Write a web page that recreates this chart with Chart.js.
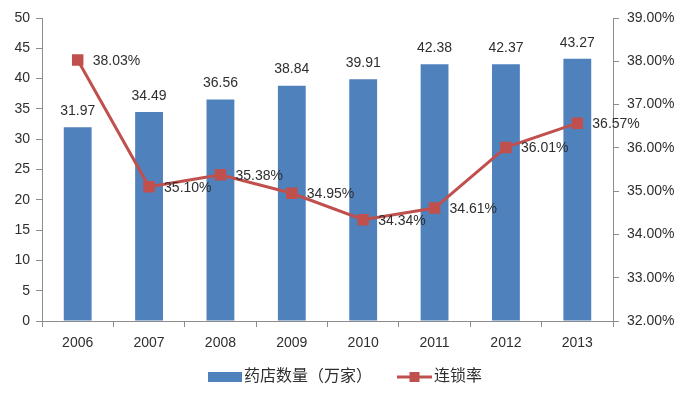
<!DOCTYPE html>
<html><head><meta charset="utf-8">
<script src="https://cdn.jsdelivr.net/npm/chart.js@4/dist/chart.umd.min.js"></script>
<style>html,body{margin:0;padding:0;background:#fff}#wrap{width:700px;height:399px}</style>
</head><body><div id="wrap"><canvas id="c" width="700" height="399"></canvas></div>
<script>
const categories = ['2006','2007','2008','2009','2010','2011','2012','2013'];
const storeCounts = [31.97, 34.49, 36.56, 38.84, 39.91, 42.38, 42.37, 43.27];
const chainRates = [38.03, 35.10, 35.38, 34.95, 34.34, 34.61, 36.01, 36.57];
const barLabel = '药店数量（万家）';
const lineLabel = '连锁率';

const BLUE = '#4F81BD', RED = '#C0504D', AXIS = '#8C8C8C', TXT = '#2E2E2E';
const LATIN = '"Liberation Sans", Arial, sans-serif';
const CJK = '"Noto Sans CJK SC", sans-serif';

const labelPlugin = {
  id:'vals',
  afterDatasetsDraw(chart){
    const ctx = chart.ctx;
    ctx.save();
    ctx.fillStyle = TXT;
    ctx.font = '14px ' + LATIN;
    const mBar = chart.getDatasetMeta(1);
    ctx.textAlign = 'center'; ctx.textBaseline = 'middle';
    mBar.data.forEach((el,i)=>{ ctx.fillText(storeCounts[i].toFixed(2), el.x, el.y - 16); });
    const mLine = chart.getDatasetMeta(0);
    ctx.textAlign = 'left';
    mLine.data.forEach((el,i)=>{ ctx.fillText(chainRates[i].toFixed(2)+'%', el.x + 15, el.y + 1); });
    ctx.restore();
  }
};

const legendPlugin = {
  id:'customLegend',
  afterDraw(chart){
    const ctx = chart.ctx;
    ctx.save();
    const y = 377;
    let x = 208;
    ctx.fillStyle = BLUE;
    ctx.fillRect(x, y-5, 34, 10);
    x += 36;
    ctx.font = '16px ' + CJK;
    ctx.fillStyle = TXT; ctx.textAlign = 'left'; ctx.textBaseline = 'middle';
    ctx.fillText(barLabel, x, y - 2);
    x = 397;
    ctx.strokeStyle = RED; ctx.lineWidth = 3;
    ctx.beginPath(); ctx.moveTo(x, y); ctx.lineTo(x+35, y); ctx.stroke();
    ctx.fillStyle = RED; ctx.fillRect(x+12.5, y-5, 10, 10);
    x += 37;
    ctx.fillStyle = TXT;
    ctx.fillText(lineLabel, x, y - 2);
    ctx.restore();
  }
};

new Chart(document.getElementById('c'), {
  data:{
    labels: categories,
    datasets:[
      {type:'line', label: lineLabel, data: chainRates, yAxisID:'y1', borderColor: RED, backgroundColor: RED, borderWidth:3,
       pointStyle:'rect', pointRadius:6, pointBackgroundColor: RED, pointBorderColor: RED, tension:0, order:0},
      {type:'bar', label: barLabel, data: storeCounts, yAxisID:'y', backgroundColor: BLUE, barPercentage:0.39, categoryPercentage:1, order:1}
    ]
  },
  options:{
    responsive:false, animation:false,
    layout:{padding:{top:18, left:0, right:0, bottom:48}},
    plugins:{ tooltip:{enabled:false}, legend:{display:false} },
    scales:{
      x:{offset:true, grid:{offset:true, drawOnChartArea:false, drawTicks:true, tickLength:6, color:AXIS},
         border:{color:AXIS}, ticks:{color:TXT, font:{family:LATIN, size:14}, padding:8},
         afterFit(s){ s.height = 30; }},
      y:{position:'left', min:0, max:50, ticks:{stepSize:5, color:TXT, font:{family:LATIN, size:14}, padding:6},
         grid:{drawOnChartArea:false, tickLength:6, color:AXIS}, border:{color:AXIS},
         afterFit(s){ s.width = 42; }},
      y1:{position:'right', min:32, max:39, ticks:{stepSize:1, color:TXT, font:{family:LATIN, size:14}, padding:8,
           callback:v=>v.toFixed(2)+'%'},
         grid:{drawOnChartArea:false, tickLength:6, color:AXIS}, border:{color:AXIS},
         afterFit(s){ s.width = 87; }}
    }
  },
  plugins:[labelPlugin, legendPlugin]
});
</script></body></html>
